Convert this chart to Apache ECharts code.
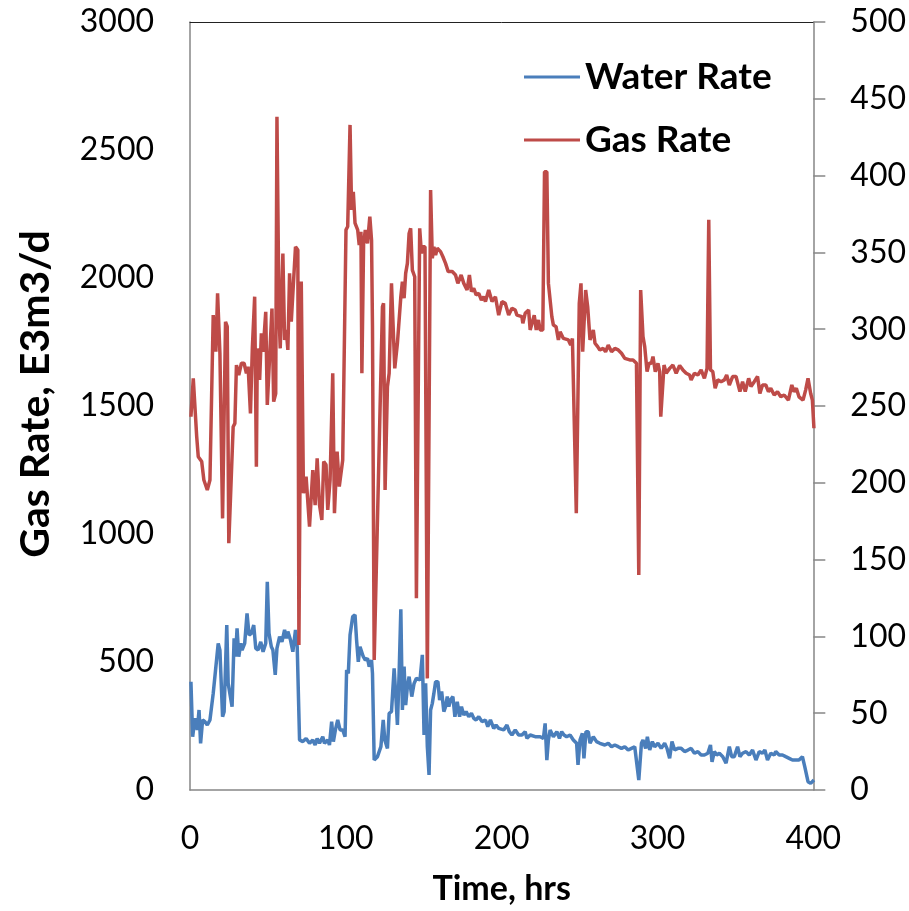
<!DOCTYPE html>
<html>
<head>
<meta charset="utf-8">
<script src="https://cdn.jsdelivr.net/npm/echarts@6/dist/echarts.min.js"></script>
<style>
  html, body { margin: 0; padding: 0; background: #fff; }
  #chart { width: 909px; height: 911px; }
</style>
</head>
<body>
<div id="chart"></div>
<script>
  // 时间 (hrs) / 气量 (E3m3/d)
  var gasTime = [0.6, 2.1, 4.3, 5.3, 7.5, 8.9, 11.1, 12.8, 14.9, 16.6, 17.7, 19.2, 20.9, 22.8, 23.9, 24.9, 27.7, 28.8, 29.8, 31.3, 33.0, 34.7, 36.2, 37.3, 38.8, 40.0, 41.5, 42.6, 43.2, 44.7, 45.8, 46.9, 48.6, 49.6, 50.5, 52.6, 53.7, 55.0, 55.8, 57.1, 57.9, 59.6, 60.7, 61.8, 62.8, 63.9, 65.0, 67.7, 69.2, 69.9, 71.4, 72.8, 74.5, 76.7, 78.8, 80.3, 81.6, 83.1, 84.6, 85.8, 87.3, 88.4, 89.9, 91.6, 92.7, 94.4, 95.8, 98.0, 100.1, 101.2, 102.7, 103.7, 104.8, 105.9, 107.6, 108.6, 109.7, 110.3, 111.4, 112.5, 113.9, 115.4, 116.5, 117.1, 118.2, 123.5, 124.2, 125.2, 126.7, 127.8, 129.3, 131.4, 133.1, 135.3, 136.3, 137.4, 138.4, 139.5, 140.6, 141.6, 142.7, 144.2, 145.3, 147.4, 148.5, 149.5, 150.8, 152.3, 154.4, 155.5, 156.5, 157.6, 158.7, 160.8, 162.3, 164.0, 165.7, 168.3, 170.4, 171.9, 174.0, 175.7, 177.8, 179.3, 180.6, 182.1, 183.6, 185.3, 187.0, 188.5, 189.6, 191.7, 193.8, 196.0, 198.1, 200.2, 202.3, 204.5, 206.6, 208.7, 209.8, 213.0, 213.6, 215.1, 217.3, 218.3, 220.9, 222.2, 223.6, 224.7, 226.4, 227.5, 229.0, 230.0, 232.2, 233.2, 234.9, 236.4, 237.5, 239.6, 240.7, 242.8, 244.3, 245.4, 246.6, 247.9, 249.8, 250.9, 252.0, 253.9, 255.2, 256.7, 258.8, 259.9, 261.6, 263.0, 265.2, 266.7, 268.4, 270.5, 272.6, 274.8, 276.9, 279.0, 282.2, 284.3, 286.5, 288.0, 289.2, 290.7, 291.8, 293.3, 294.6, 296.1, 297.1, 298.6, 300.3, 301.4, 302.1, 304.2, 305.6, 307.8, 309.9, 312.0, 314.2, 316.3, 318.4, 320.6, 321.6, 323.7, 325.9, 328.0, 330.1, 331.8, 332.9, 334.0, 335.5, 337.0, 338.7, 340.8, 342.9, 344.4, 346.1, 348.2, 350.4, 352.9, 354.6, 356.3, 358.5, 360.0, 362.1, 364.2, 365.7, 367.4, 369.5, 371.2, 372.7, 374.9, 377.0, 379.1, 381.3, 384.0, 386.2, 387.6, 389.1, 390.8, 393.4, 395.1, 396.6, 398.3, 399.4, 400.4];
  var gasRate = [1458, 1608, 1380, 1302, 1283, 1211, 1172, 1211, 1855, 1712, 1940, 1706, 1061, 1829, 1810, 964, 1419, 1432, 1660, 1621, 1667, 1667, 1628, 1654, 1471, 1725, 1927, 1263, 1725, 1602, 1784, 1712, 1868, 1504, 1504, 1881, 1517, 1549, 2630, 1862, 1725, 2096, 1758, 1797, 1719, 2018, 1829, 2122, 2109, 566, 1986, 1159, 1224, 1029, 1250, 1113, 1296, 1113, 1055, 1283, 1270, 1094, 1211, 1628, 1081, 1322, 1185, 1289, 2188, 2201, 2598, 2266, 2337, 2214, 2188, 2129, 2181, 1628, 2135, 2188, 2135, 2240, 2148, 1810, 508, 1888, 1901, 1172, 1575, 1628, 1979, 1647, 1745, 1927, 1986, 1921, 2018, 2057, 2174, 2194, 2031, 2005, 749, 2194, 2096, 2122, 2122, 436, 2344, 2077, 2122, 2090, 2116, 2103, 2083, 2057, 2025, 2025, 2012, 1979, 2012, 1979, 1953, 2012, 1947, 1960, 1934, 1940, 1914, 1927, 1908, 1953, 1908, 1927, 1855, 1908, 1901, 1855, 1882, 1875, 1855, 1849, 1823, 1862, 1875, 1797, 1855, 1797, 1836, 1797, 1797, 2415, 2415, 1979, 1849, 1816, 1810, 1758, 1790, 1764, 1771, 1758, 1738, 1764, 1758, 1081, 1901, 1979, 1712, 1953, 1888, 1758, 1797, 1745, 1732, 1719, 1725, 1712, 1738, 1712, 1725, 1719, 1706, 1686, 1680, 1680, 1667, 840, 1953, 1771, 1732, 1634, 1667, 1667, 1693, 1634, 1667, 1634, 1458, 1660, 1628, 1647, 1660, 1628, 1658, 1641, 1628, 1621, 1602, 1628, 1621, 1641, 1608, 1647, 2227, 1641, 1634, 1569, 1602, 1595, 1602, 1621, 1582, 1615, 1615, 1556, 1595, 1556, 1608, 1576, 1595, 1615, 1549, 1582, 1582, 1556, 1569, 1543, 1556, 1536, 1543, 1523, 1582, 1556, 1569, 1536, 1523, 1563, 1608, 1549, 1523, 1413];

  // 时间 (hrs) / 水量
  var waterTime = [0.6, 1.7, 3.2, 4.7, 5.8, 6.8, 8.1, 9.6, 11.1, 12.8, 14.9, 16.4, 18.1, 19.2, 20.9, 21.9, 23.6, 24.5, 25.6, 27.0, 28.3, 29.2, 30.2, 31.3, 32.6, 33.4, 35.1, 36.6, 37.9, 39.4, 40.9, 42.2, 43.7, 45.4, 46.9, 48.6, 49.6, 50.7, 52.2, 53.2, 54.7, 55.8, 57.5, 59.0, 60.7, 61.8, 62.8, 64.5, 66.0, 67.7, 68.8, 70.3, 72.4, 74.5, 76.7, 78.8, 80.3, 81.6, 83.1, 85.2, 86.3, 88.4, 89.5, 90.9, 92.0, 93.3, 94.8, 96.3, 98.0, 99.5, 100.5, 101.6, 102.7, 104.4, 105.9, 106.9, 108.0, 109.1, 110.1, 111.2, 112.5, 113.9, 115.0, 116.5, 117.1, 118.2, 120.3, 122.5, 124.0, 125.0, 126.7, 127.8, 129.3, 131.0, 132.1, 133.1, 134.2, 135.3, 136.3, 137.4, 138.4, 139.5, 140.6, 142.3, 143.8, 145.3, 146.5, 147.6, 149.1, 150.2, 151.2, 152.3, 153.4, 154.4, 155.5, 156.5, 157.6, 159.1, 160.2, 161.5, 162.9, 164.0, 165.1, 166.1, 167.2, 168.7, 170.0, 171.5, 173.0, 174.2, 175.7, 177.2, 178.9, 180.6, 182.1, 183.6, 185.3, 187.4, 189.6, 191.1, 192.8, 194.9, 196.4, 198.1, 199.1, 201.3, 203.4, 204.9, 206.6, 208.7, 210.9, 213.0, 215.1, 216.2, 218.3, 221.5, 224.7, 226.8, 227.9, 229.0, 230.0, 231.1, 233.2, 235.4, 237.1, 238.5, 240.0, 241.7, 243.9, 246.0, 248.1, 249.0, 250.3, 251.8, 252.8, 254.1, 255.6, 256.7, 258.8, 260.9, 263.0, 266.2, 268.4, 270.5, 272.6, 274.8, 276.9, 279.0, 281.2, 283.3, 285.4, 286.5, 288.0, 289.7, 290.7, 292.4, 293.5, 295.0, 296.7, 298.2, 300.3, 302.4, 304.6, 306.1, 307.8, 309.3, 311.0, 313.1, 315.2, 317.4, 319.5, 321.6, 323.7, 325.9, 328.0, 330.1, 332.3, 334.0, 335.0, 336.5, 338.0, 339.7, 341.9, 344.0, 346.1, 347.6, 349.3, 351.4, 352.9, 354.6, 356.8, 358.9, 361.0, 363.2, 365.3, 367.4, 368.9, 370.6, 372.7, 374.9, 375.9, 378.1, 380.2, 382.3, 384.5, 386.6, 388.7, 390.8, 393.0, 394.5, 396.6, 398.3, 400.4];
  var waterRate = [70.5, 34.7, 46.7, 39.1, 52.1, 30.4, 45.6, 44.5, 42.3, 45.6, 62.9, 78.1, 95.5, 91.1, 47.7, 50.9, 107.4, 69.4, 70.5, 54.3, 98.7, 86.8, 105.2, 86.8, 95.5, 91.1, 95.5, 115.0, 100.9, 102.0, 107.4, 92.2, 91.1, 96.5, 90.0, 95.5, 135.6, 102.0, 93.3, 91.1, 74.9, 92.2, 99.8, 96.5, 104.2, 98.7, 103.1, 97.6, 90.0, 104.2, 93.3, 32.6, 31.5, 33.6, 30.4, 32.6, 29.3, 33.6, 30.4, 34.7, 30.4, 32.6, 29.3, 44.5, 31.5, 39.1, 45.6, 39.1, 39.1, 34.7, 78.1, 75.9, 100.9, 112.8, 114.0, 97.6, 83.5, 93.3, 93.3, 86.8, 84.6, 85.7, 80.3, 84.6, 75.9, 19.5, 21.7, 28.2, 45.6, 32.6, 27.1, 49.9, 51.0, 79.2, 60.8, 42.3, 75.9, 117.6, 52.1, 80.3, 55.3, 67.3, 73.8, 60.8, 69.4, 72.7, 72.7, 71.6, 88.0, 35.8, 69.4, 28.2, 9.8, 52.1, 56.4, 62.9, 70.5, 70.5, 58.6, 64.1, 51.0, 54.3, 60.8, 54.3, 58.6, 60.8, 47.7, 57.5, 47.7, 54.3, 48.8, 51.0, 47.7, 49.9, 46.7, 45.6, 47.7, 44.5, 45.6, 41.2, 45.6, 40.1, 42.3, 40.1, 41.2, 39.1, 42.3, 38.0, 35.8, 39.1, 35.8, 35.8, 38.0, 33.6, 35.8, 34.7, 34.7, 33.6, 43.4, 19.5, 32.6, 39.1, 34.7, 38.0, 33.6, 38.0, 35.8, 34.7, 35.8, 32.6, 30.4, 16.3, 32.6, 36.9, 20.6, 38.0, 38.0, 30.4, 34.7, 31.5, 30.4, 29.3, 30.4, 28.2, 29.3, 28.2, 27.1, 28.2, 26.0, 27.1, 28.2, 29.3, 6.5, 30.4, 32.6, 27.1, 34.7, 26.0, 31.5, 28.2, 30.4, 27.1, 30.4, 27.1, 20.6, 31.5, 26.0, 27.1, 27.1, 25.0, 26.0, 27.1, 23.9, 25.0, 22.8, 22.8, 23.9, 29.3, 18.4, 25.0, 22.8, 23.9, 21.7, 17.4, 28.2, 21.7, 21.7, 28.2, 21.7, 23.9, 25.0, 22.8, 26.0, 19.5, 25.0, 23.9, 26.0, 19.5, 23.9, 22.8, 25.0, 22.8, 22.8, 21.7, 20.6, 19.5, 19.5, 19.5, 21.7, 15.2, 5.4, 4.3, 6.5];

  var seriesNames = ['Water Rate', 'Gas Rate'];
  var xTicks = [0, 400, 100];     // min, max, interval
  var leftTicks = [0, 3000, 500];
  var rightTicks = [0, 500, 50];

  function zip (xs, ys) {
    return xs.map(function (x, i) { return [x, ys[i]]; });
  }

  var font = 'Lato, "Open Sans", sans-serif';
  var axisGray = '#868686';
  var plain = function (v) { return String(v); };

  var option = {
    animation: false,
    backgroundColor: '#fff',
    color: ['#4A7EBB', '#BE4B48'],
    grid: {
      left: 190,
      right: 93,
      top: 22,
      bottom: 120,
      containLabel: false
    },
    legend: {
      data: seriesNames,
      orient: 'vertical',
      left: 519,
      top: 53,
      icon: 'rect',
      itemWidth: 56,
      itemHeight: 3,
      itemGap: 25,
      textStyle: {
        fontFamily: font,
        fontSize: 37,
        fontWeight: 'bold',
        color: '#000',
        lineHeight: 38
      }
    },
    xAxis: [{
      type: 'value',
      position: 'bottom',
      min: xTicks[0],
      max: xTicks[1],
      interval: xTicks[2],
      name: 'Time, hrs',
      nameLocation: 'middle',
      nameGap: 82,
      nameTextStyle: {
        fontFamily: font,
        fontSize: 34,
        fontWeight: 'bold',
        color: '#000'
      },
      axisLine: { onZero: false, lineStyle: { color: axisGray, width: 1.5 } },
      axisTick: { show: false },
      axisLabel: {
        margin: 33,
        fontFamily: font,
        fontSize: 32,
        color: '#000',
        formatter: plain
      },
      splitLine: { show: false }
    }, {
      type: 'value',
      position: 'top',
      min: xTicks[0],
      max: xTicks[1],
      axisLine: { show: true, onZero: false, lineStyle: { color: '#222', width: 1 } },
      axisTick: { show: false },
      axisLabel: { show: false },
      splitLine: { show: false }
    }],
    yAxis: [{
      type: 'value',
      position: 'left',
      min: leftTicks[0],
      max: leftTicks[1],
      interval: leftTicks[2],
      name: 'Gas Rate, E3m3/d',
      nameLocation: 'middle',
      nameGap: 134,
      nameTextStyle: {
        fontFamily: font,
        fontSize: 41,
        fontWeight: 'bold',
        color: '#000',
        padding: [0, 0, 0, 24]
      },
      axisLine: { show: true, onZero: false, lineStyle: { color: axisGray, width: 1.5 } },
      axisTick: { show: false },
      axisLabel: {
        margin: 36,
        fontFamily: font,
        fontSize: 32,
        color: '#000',
        formatter: plain
      },
      splitLine: { show: false }
    }, {
      type: 'value',
      position: 'right',
      min: rightTicks[0],
      max: rightTicks[1],
      interval: rightTicks[2],
      axisLine: { show: true, onZero: false, lineStyle: { color: axisGray, width: 1.5 } },
      axisTick: { show: true, inside: false, length: 12, lineStyle: { color: axisGray, width: 1.5 } },
      axisLabel: {
        margin: 37,
        fontFamily: font,
        fontSize: 32,
        color: '#000',
        formatter: plain
      },
      splitLine: { show: false }
    }],
    series: [{
      name: seriesNames[0],
      type: 'line',
      yAxisIndex: 1,
      showSymbol: false,
      symbol: 'none',
      lineStyle: { width: 3.5 },
      data: zip(waterTime, waterRate)
    }, {
      name: seriesNames[1],
      type: 'line',
      yAxisIndex: 0,
      showSymbol: false,
      symbol: 'none',
      lineStyle: { width: 3.5 },
      data: zip(gasTime, gasRate)
    }]
  };

  var chart = echarts.init(document.getElementById('chart'), null, { renderer: 'canvas' });
  chart.setOption(option);
</script>
</body>
</html>
